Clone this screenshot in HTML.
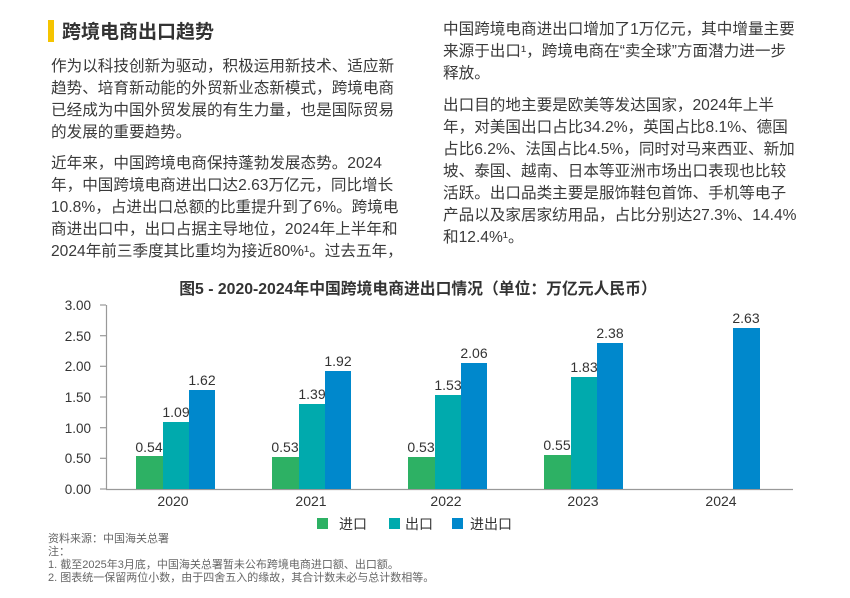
<!DOCTYPE html>
<html><head><meta charset="utf-8"><style>
body{margin:0;background:#fff;}
svg{display:block;font-family:"Liberation Sans","Noto Sans CJK SC",sans-serif;}
</style></head><body>
<svg width="850" height="598" viewBox="0 0 850 598" xmlns="http://www.w3.org/2000/svg">
<rect x="48" y="20" width="6" height="22" fill="#f5c400"/>
<text x="62" y="38" font-size="19" font-weight="bold" fill="#333">跨境电商出口趋势</text>
<g font-size="15.6" fill="#3a3a3a">
<text x="51" y="71">作为以科技创新为驱动，积极运用新技术、适应新</text>
<text x="51" y="93">趋势、培育新动能的外贸新业态新模式，跨境电商</text>
<text x="51" y="115">已经成为中国外贸发展的有生力量，也是国际贸易</text>
<text x="51" y="137">的发展的重要趋势。</text>
<text x="51" y="168">近年来，中国跨境电商保持蓬勃发展态势。2024</text>
<text x="51" y="190">年，中国跨境电商进出口达2.63万亿元，同比增长</text>
<text x="51" y="212">10.8%，占进出口总额的比重提升到了6%。跨境电</text>
<text x="51" y="234">商进出口中，出口占据主导地位，2024年上半年和</text>
<text x="51" y="256">2024年前三季度其比重均为接近80%¹。过去五年，</text>
<text x="443" y="34">中国跨境电商进出口增加了1万亿元，其中增量主要</text>
<text x="443" y="56">来源于出口¹，跨境电商在“卖全球”方面潜力进一步</text>
<text x="443" y="78">释放。</text>
<text x="443" y="110">出口目的地主要是欧美等发达国家，2024年上半</text>
<text x="443" y="132">年，对美国出口占比34.2%，英国占比8.1%、德国</text>
<text x="443" y="154">占比6.2%、法国占比4.5%，同时对马来西亚、新加</text>
<text x="443" y="176">坡、泰国、越南、日本等亚洲市场出口表现也比较</text>
<text x="443" y="198">活跃。出口品类主要是服饰鞋包首饰、手机等电子</text>
<text x="443" y="220">产品以及家居家纺用品，占比分别达27.3%、14.4%</text>
<text x="443" y="242">和12.4%¹。</text>
</g>
<text x="418" y="294" font-size="15.8" font-weight="bold" fill="#333" text-anchor="middle">图5 - 2020-2024年中国跨境电商进出口情况（单位：万亿元人民币）</text>
<g stroke="#999" stroke-width="1.2" fill="none">
<line x1="106.5" y1="305" x2="106.5" y2="489"/>
<line x1="106" y1="489.5" x2="793" y2="489.5"/>
<line x1="100" y1="305" x2="106" y2="305"/><line x1="100" y1="335.7" x2="106" y2="335.7"/>
<line x1="100" y1="366.3" x2="106" y2="366.3"/><line x1="100" y1="397" x2="106" y2="397"/>
<line x1="100" y1="427.7" x2="106" y2="427.7"/><line x1="100" y1="458.3" x2="106" y2="458.3"/>
<line x1="100" y1="489" x2="106" y2="489"/>
</g>
<g font-size="13.5" fill="#333" text-anchor="end">
<text x="91" y="310">3.00</text><text x="91" y="341">2.50</text><text x="91" y="371">2.00</text>
<text x="91" y="402">1.50</text><text x="91" y="433">1.00</text><text x="91" y="463">0.50</text><text x="91" y="494">0.00</text>
</g>
<g>
<rect x="136" y="456" width="27" height="33" fill="#2db164"/>
<rect x="163" y="422" width="26" height="67" fill="#00aaad"/>
<rect x="189" y="390" width="26" height="99" fill="#0088cc"/>
<rect x="272" y="457" width="27" height="32" fill="#2db164"/>
<rect x="299" y="404" width="26" height="85" fill="#00aaad"/>
<rect x="325" y="371" width="26" height="118" fill="#0088cc"/>
<rect x="408" y="457" width="27" height="32" fill="#2db164"/>
<rect x="435" y="395" width="26" height="94" fill="#00aaad"/>
<rect x="461" y="363" width="26" height="126" fill="#0088cc"/>
<rect x="544" y="455" width="27" height="34" fill="#2db164"/>
<rect x="571" y="377" width="26" height="112" fill="#00aaad"/>
<rect x="597" y="343" width="26" height="146" fill="#0088cc"/>
<rect x="733" y="328" width="27" height="161" fill="#0088cc"/>
</g>
<g font-size="14" fill="#333" text-anchor="middle">
<text x="149" y="452">0.54</text><text x="176" y="417">1.09</text><text x="202" y="385">1.62</text>
<text x="285" y="452">0.53</text><text x="312" y="399">1.39</text><text x="338" y="366">1.92</text>
<text x="421" y="452">0.53</text><text x="448" y="390">1.53</text><text x="474" y="358">2.06</text>
<text x="557" y="450">0.55</text><text x="584" y="372">1.83</text><text x="610" y="338">2.38</text>
<text x="746" y="323">2.63</text>
<text x="173" y="506">2020</text><text x="311" y="506">2021</text><text x="446" y="506">2022</text><text x="583" y="506">2023</text><text x="721" y="506">2024</text>
</g>
<rect x="317" y="518" width="11" height="11" fill="#2db164"/>
<rect x="389" y="518" width="11" height="11" fill="#00aaad"/>
<rect x="452" y="518" width="11" height="11" fill="#0088cc"/>
<g font-size="14" fill="#333">
<text x="339" y="529">进口</text><text x="405" y="529">出口</text><text x="470" y="529">进出口</text>
</g>
<g font-size="11" fill="#666">
<text x="48" y="542">资料来源：中国海关总署</text>
<text x="48" y="555">注：</text>
<text x="48" y="568">1. 截至2025年3月底，中国海关总署暂未公布跨境电商进口额、出口额。</text>
<text x="48" y="581">2. 图表统一保留两位小数，由于四舍五入的缘故，其合计数未必与总计数相等。</text>
</g>
</svg>
</body></html>
